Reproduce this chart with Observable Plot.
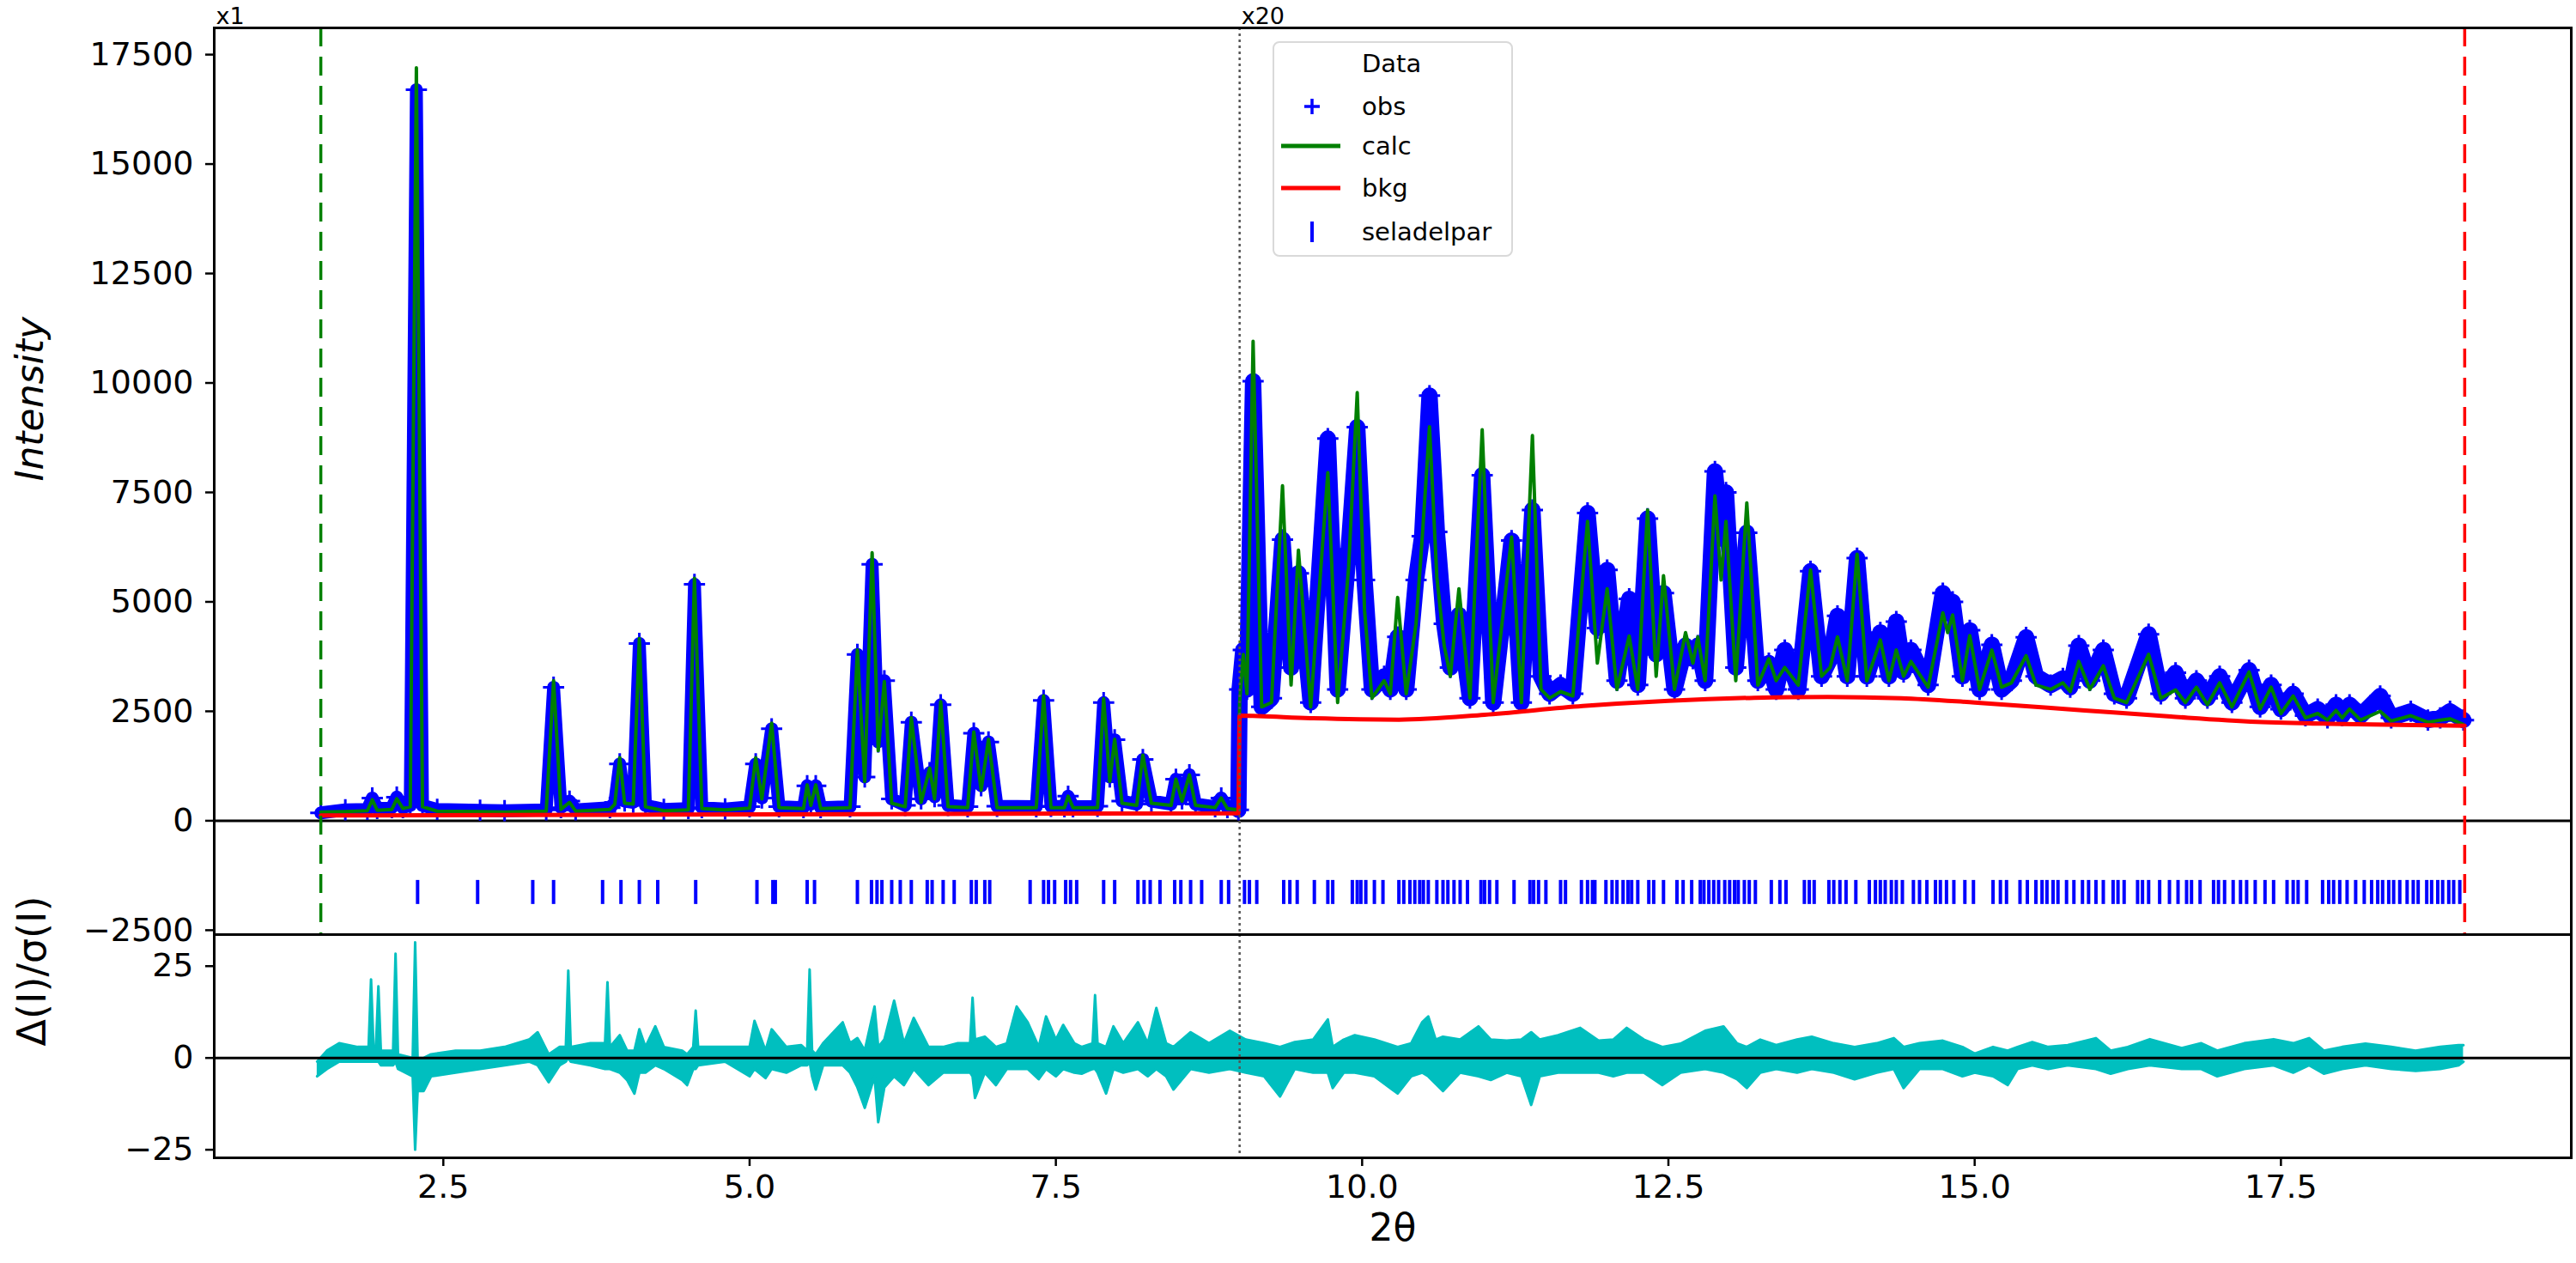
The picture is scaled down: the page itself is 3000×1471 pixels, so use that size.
<!DOCTYPE html>
<html>
<head>
<meta charset="utf-8">
<script src="https://cdn.jsdelivr.net/npm/d3@7"></script>
<script src="https://cdn.jsdelivr.net/npm/@observablehq/plot@0.6"></script>
<style>
  body { margin: 0; background: #fff; }
  #wrap { position: relative; width: 3000px; height: 1471px; font-family: "DejaVu Sans", sans-serif; color: #000; }
  #top, #bot { position: absolute; left: 0; }
  #top { top: 0; }
  #bot { top: 1086px; }
  #legend { position: absolute; left: 1482px; top: 48px; width: 276px; height: 247px; border: 2px solid #d9d9d9; border-radius: 8px; background: rgba(255,255,255,0.85); font-size: 29px; }
  #legend .row { position: absolute; left: 0; width: 276px; height: 40px; }
  #legend .lab { position: absolute; left: 102px; top: 0; line-height: 40px; white-space: nowrap; }
  #legend svg { position: absolute; left: 0; top: 0; }
</style>
</head>
<body>
<div id="wrap">
  <div id="top"></div>
  <div id="bot"></div>
  <div id="legend"></div>
</div>
<script>
// ---------- data ----------
// profile vertices (2θ), calculated and observed intensity as displayed (x20 above 9°)
const profX = [
  1.50,1.70,1.88,1.92,1.96,2.08,2.12,2.17,2.23,2.28,2.33,2.45,2.80,3.00,3.34,3.40,3.46,3.53,3.58,3.86,
  3.90,3.94,3.98,4.05,4.10,4.15,4.30,4.50,4.55,4.61,4.80,5.00,5.05,5.10,5.18,5.24,5.44,5.47,5.50,5.54,
  5.58,5.82,5.88,5.94,6.00,6.05,6.10,6.16,6.27,6.32,6.40,6.47,6.51,6.56,6.62,6.78,6.83,6.89,6.95,7.02,
  7.34,7.40,7.46,7.57,7.60,7.64,7.84,7.89,7.94,7.98,8.04,8.16,8.21,8.28,8.44,8.48,8.53,8.59,8.64,8.80,
  8.85,8.90,8.99,
  9.00,9.03,9.06,9.11,9.18,9.26,9.35,9.42,9.48,9.58,9.72,9.80,9.89,9.96,10.02,10.08,10.18,10.23,10.29,10.36,
  10.44,10.49,10.55,10.61,10.67,10.72,10.79,10.88,10.98,11.07,11.22,11.30,11.39,11.46,11.53,11.62,11.72,11.84,11.92,12.00,
  12.08,12.18,12.25,12.33,12.40,12.46,12.55,12.64,12.70,12.74,12.80,12.88,12.93,12.97,13.05,13.14,13.23,13.32,13.38,13.45,
  13.56,13.66,13.75,13.82,13.88,13.96,14.04,14.12,14.23,14.30,14.36,14.42,14.48,14.62,14.74,14.78,14.82,14.90,14.96,15.04,
  15.14,15.22,15.30,15.42,15.50,15.62,15.72,15.78,15.85,15.94,16.05,16.14,16.24,16.42,16.52,16.64,16.72,16.81,16.90,17.00,
  17.10,17.24,17.33,17.42,17.50,17.60,17.70,17.80,17.88,17.95,18.00,18.06,18.15,18.31,18.40,18.56,18.70,18.80,18.88,18.99
];
const calcY = [
  200,210,230,480,240,260,500,280,320,17200,320,220,210,200,220,3200,260,420,220,260,
  380,1440,400,380,4160,320,230,250,5540,280,250,290,1440,500,2230,300,280,820,350,820,
  280,300,3900,900,6120,1600,3180,400,320,2350,420,1200,500,2720,320,300,2030,700,1860,300,
  300,2850,300,300,560,300,300,2790,900,1860,400,350,1500,400,350,950,450,1050,350,300,
  520,280,250,
  2700,3800,2900,10950,2600,2700,7650,3100,6180,2600,7950,2700,5800,9780,4800,2800,3200,2900,5100,2900,
  4500,6440,9000,5560,4000,3300,5300,2800,8930,2700,6480,2700,8800,3000,2800,2950,2850,6840,3600,5300,
  3000,4220,3000,7100,3300,5600,3000,4300,3600,4200,3200,7420,5500,6840,3200,7260,3100,3700,3200,3500,
  3100,5730,3300,3500,4200,3200,6090,3200,4130,3200,3900,3300,3640,3050,4750,4300,4700,3200,4230,3000,
  3900,3050,3150,3770,3100,3000,3150,2950,3640,3000,3540,2800,2700,3800,2800,2990,2700,3050,2650,3150,
  2600,3400,2550,3050,2450,2850,2350,2450,2300,2520,2350,2550,2300,2500,2280,2400,2250,2300,2330,2200
];
const obsY = [
  180,250,260,520,280,300,540,300,350,16700,350,260,240,230,250,3050,300,450,250,300,
  420,1300,450,420,4050,350,260,280,5400,300,270,320,1300,520,2100,320,300,800,380,800,
  300,320,3800,1000,5860,1800,3200,500,350,2250,500,1100,550,2650,350,320,2000,800,1800,330,
  320,2750,330,320,560,320,330,2700,1000,1850,450,380,1400,450,380,950,500,1050,380,320,
  520,300,250,
  3000,3900,3000,10040,2600,2800,6420,3500,5650,2700,8730,3000,6200,8990,5500,3000,3300,3000,4200,3000,
  5500,6500,9710,6600,4500,3500,4700,2800,7890,2700,6400,2700,7100,3300,2900,3100,2900,7030,4400,5730,
  3200,5070,3100,6900,3800,5200,3000,4000,3700,4000,3200,7980,6500,7500,3500,6580,3200,3600,3000,3900,
  3000,5700,3300,3700,4680,3300,6000,3300,4300,3300,4550,3400,3900,3100,5200,4800,5000,3300,4350,3000,
  4020,3000,3200,4190,3300,3100,3250,3050,4000,3200,3900,2900,2800,4260,2900,3380,2800,3200,2800,3300,
  2700,3440,2600,3100,2550,2900,2400,2550,2350,2650,2400,2650,2400,2850,2350,2500,2300,2350,2500,2300
];
// background curve
const bkgX = [1.5, 3.0, 5.0, 7.0, 8.99, 9.0, 9.6, 10.3, 11.0, 11.8, 12.5, 13.2, 13.8, 14.4, 15.0, 15.9, 16.6, 17.3, 18.0, 19.0];
const bkgY = [120, 130, 145, 160, 170, 2400, 2340, 2310, 2420, 2620, 2740, 2810, 2830, 2800, 2700, 2520, 2380, 2260, 2210, 2170];
// reflection positions (seladelpar)
const reflX = [
  2.29,2.78,3.23,3.40,3.80,3.95,4.10,4.25,4.56,5.06,5.19,5.21,5.47,5.53,5.88,5.995,6.04,6.08,6.16,6.23,
  6.32,6.45,6.49,6.58,6.67,6.81,6.85,6.92,6.96,7.29,7.40,7.44,7.49,7.58,7.62,7.67,7.89,7.98,8.17,8.22,
  8.27,8.35,8.47,8.52,8.60,8.69,8.85,8.91,9.04,9.08,9.14,9.36,9.41,9.47,9.61,9.72,9.76,9.92,9.96,9.99,
  10.03,10.10,10.17,10.30,10.34,10.39,10.43,10.47,10.50,10.54,10.61,10.66,10.70,10.75,10.80,10.86,10.97,11.00,11.04,11.10,
  11.24,11.37,11.40,11.44,11.50,11.62,11.66,11.79,11.84,11.88,11.90,11.99,12.04,12.08,12.13,12.17,12.20,12.25,12.34,12.38,
  12.46,12.57,12.62,12.69,12.76,12.79,12.83,12.87,12.91,12.96,13.00,13.04,13.07,13.12,13.16,13.21,13.34,13.41,13.46,13.61,
  13.65,13.69,13.81,13.85,13.90,13.95,14.03,14.14,14.19,14.23,14.27,14.32,14.36,14.41,14.50,14.55,14.61,14.68,14.72,14.77,
  14.83,14.92,14.99,15.15,15.21,15.26,15.37,15.43,15.50,15.55,15.59,15.64,15.68,15.75,15.81,15.88,15.93,15.99,16.05,16.13,
  16.17,16.22,16.33,16.37,16.42,16.51,16.59,16.66,16.73,16.77,16.84,16.95,16.99,17.04,17.11,17.17,17.22,17.29,17.37,17.44,
  17.55,17.60,17.64,17.71,17.84,17.89,17.93,17.98,18.04,18.11,18.18,18.24,18.29,18.33,18.38,18.42,18.47,18.53,18.58,18.62,
  18.69,18.73,18.78,18.82,18.87,18.91,18.96
];
// difference curve Δ(I)/σ(I): upper and lower edge of the noisy trace
const resX = [
  1.47,1.55,1.65,1.80,1.89,1.91,1.93,1.95,1.97,1.99,2.09,2.11,2.13,2.25,2.27,2.29,2.34,2.40,2.60,2.80,
  3.00,3.20,3.27,3.36,3.45,3.50,3.52,3.54,3.70,3.82,3.84,3.86,3.94,4.00,4.06,4.10,4.15,4.23,4.30,4.45,
  4.49,4.54,4.56,4.58,4.80,5.00,5.04,5.13,5.18,5.30,5.42,5.47,5.49,5.51,5.54,5.60,5.76,5.82,5.88,5.94,
  6.02,6.05,6.10,6.18,6.26,6.34,6.46,6.58,6.70,6.80,6.82,6.84,6.92,7.01,7.10,7.18,7.27,7.36,7.42,7.50,
  7.56,7.65,7.71,7.80,7.82,7.84,7.91,7.97,8.05,8.17,8.25,8.32,8.40,8.46,8.60,8.75,8.92,9.05,9.20,9.33,
  9.45,9.60,9.72,9.76,9.85,9.94,10.10,10.29,10.40,10.49,10.54,10.60,10.66,10.80,10.95,11.05,11.18,11.30,11.38,11.45,
  11.60,11.78,11.93,12.05,12.16,12.30,12.45,12.60,12.80,12.95,13.06,13.14,13.25,13.38,13.55,13.67,13.85,14.02,14.20,14.34,
  14.42,14.55,14.74,14.90,15.00,15.15,15.27,15.35,15.47,15.60,15.76,15.99,16.11,16.25,16.43,16.69,16.85,16.98,17.20,17.44,
  17.60,17.73,17.85,18.00,18.19,18.40,18.60,18.80,18.95,18.99
];
const resHi = [
  -1,2,4,3,3,21.4,3,3,19.5,2,2,28.4,1,0,31.5,0,0,1,2,2,
  3,5,7,1,3,3,23.8,3,4,4,20.6,3,6.2,2,2,7.8,3,8.6,3,2,
  1,3,12.9,3,3,3,10.1,2,7.8,3,3.5,2,24.1,2,1,4,9.7,4,5.4,2,
  14,3,5,15.6,4,10.9,3,3,4,4,16.4,5,5.8,3,4,14,9.7,3,11.3,5,
  9,4,3,4,17.1,4,3,8.6,4,9.7,4,13.6,4,3,7,4,7.4,5,4,3,
  4.3,5,10.5,3,5,6.2,5,3,4,9.7,11.3,5,5.8,5,8.6,5,4.7,5,7,5,
  6.2,8.2,4.7,5,8.2,5,3,3.9,7.4,8.6,4,3,5,3.5,5,5.8,4,3,4,5.4,
  3,4,4.7,3,1.2,3,2,3,4.3,3,3.5,5.4,2,3,5.1,2.7,4,2,4,5.1,
  4,5.4,2,3,3.9,3,2,3,3.5,3.5
];
const resLo = [
  -5,-3,-1,-1,-1,-1,-1,-1,-1,-2,-2,-1,-3,-5,-25,-9,-9,-5,-4,-3,
  -2,-1,-2,-6.6,-2,-1,0,-1,-2,-3,-3,-3,-4,-6,-9.7,-4,-4,-2,-3,-6,
  -7.4,-3,-3,-2,-1,-5,-3,-5.5,-3,-4,-2,-2,-1,-5,-8.6,-2,-2,-4,-8,-13.6,
  -5,-17.5,-8,-5,-7.4,-3,-7.4,-4,-4,-4,-5,-10.9,-4,-7.4,-3,-3,-3,-5.8,-3,-5,
  -3,-4,-4.3,-3,-3,-4,-9.7,-3,-4,-3,-5,-3,-5,-8.6,-3,-4,-3,-4,-5,-10.5,
  -3,-4,-4,-8.2,-4,-4,-5,-9.7,-5,-4,-5,-7,-9,-4,-5,-6,-4,-5,-12.8,-5,
  -4,-4,-4,-5,-4,-4,-7.4,-4,-3,-4,-5.8,-8.2,-4,-3,-4,-3,-4,-5.8,-4,-3,
  -8.2,-3,-3,-5,-4,-5,-7.4,-3,-2,-3,-2,-3,-4.3,-3,-2,-3,-3,-5,-3,-2,
  -4,-2,-4.3,-3,-2,-3,-3.5,-3,-2,-1
];
// fit limits, scale-change position and their labels
const limits = [1.5, 19.0];
const scaleStarts = [0.63, 9.0];
const scaleLabels = ["x1", "x20"];
// axis ticks
const xTicks = [2.5, 5.0, 7.5, 10.0, 12.5, 15.0, 17.5];
const yTicks = [-2500, 0, 2500, 5000, 7500, 10000, 12500, 15000, 17500];
const resTicks = [-25, 0, 25];

// ---------- tables ----------
const profile = profX.map((x, i) => ({x, calc: calcY[i], obs: obsY[i]}));
const bkg = bkgX.map((x, i) => ({x, y: bkgY[i]}));
const res = resX.map((x, i) => ({x, hi: resHi[i], lo: resLo[i]}));
const scaleText = scaleLabels.map((t, i) => ({t, x: scaleStarts[i]}));

const X_DOMAIN = [0.63, 19.87];
const BLUE = "#0000ff", GREEN = "#008000", RED = "#ff0000", CYAN = "#00bfbf";
const baseStyle = {fontFamily: "DejaVu Sans, sans-serif", fontSize: "38px", color: "#000", background: "transparent", overflow: "visible"};

const topPlot = Plot.plot({
  width: 3000, height: 1088,
  marginTop: 32, marginBottom: 0, marginLeft: 249, marginRight: 6,
  style: baseStyle,
  x: {domain: X_DOMAIN, axis: null},
  y: {domain: [-2600, 18110]},
  marks: [
    Plot.ruleY([0], {stroke: "#000", strokeWidth: 3}),
    Plot.line(profile.filter(d => d.x < 9), {x: "x", y: "obs", stroke: BLUE, strokeWidth: 15}),
    Plot.line(profile.filter(d => d.x >= 8.99), {x: "x", y: "obs", stroke: BLUE, strokeWidth: 19}),
    Plot.dot(profile, {x: "x", y: "obs", symbol: "plus", r: 8, stroke: BLUE, strokeWidth: 3}),
    Plot.line(profile, {x: "x", y: "calc", stroke: GREEN, strokeWidth: 4}),
    Plot.line(bkg, {x: "x", y: "y", stroke: RED, strokeWidth: 5, curve: "monotone-x"}),
    Plot.ruleX(reflX, {y1: -1911, y2: -1362, stroke: BLUE, strokeWidth: 4}),
    Plot.ruleX([limits[0]], {stroke: GREEN, strokeWidth: 3.5, strokeDasharray: "22,12"}),
    Plot.ruleX([limits[1]], {stroke: RED, strokeWidth: 3.5, strokeDasharray: "22,12"}),
    Plot.ruleX([scaleStarts[1]], {stroke: "#555", strokeWidth: 2.5, strokeDasharray: "3,4"}),
    Plot.axisY({ticks: yTicks, tickFormat: d3.format("d"), tickSize: 10, tickPadding: 14, strokeWidth: 2.5, label: null}),
    Plot.frame({stroke: "#000", strokeWidth: 3}),
    Plot.text(["Intensity"], {frameAnchor: "left", dx: -214, rotate: -90, fontSize: 44, fontStyle: "italic"}),
    Plot.text(scaleText, {x: "x", text: "t", frameAnchor: "top", textAnchor: "start", lineAnchor: "bottom", dx: 2, dy: -5, fontSize: 27})
  ]
});

const botPlot = Plot.plot({
  width: 3000, height: 385,
  marginTop: 2, marginBottom: 123, marginLeft: 249, marginRight: 6,
  style: baseStyle,
  x: {domain: X_DOMAIN},
  y: {domain: [-27.2, 33.6]},
  marks: [
    Plot.areaY(res, {x: "x", y1: "lo", y2: "hi", fill: CYAN}),
    Plot.line(res, {x: "x", y: "hi", stroke: CYAN, strokeWidth: 3}),
    Plot.line(res, {x: "x", y: "lo", stroke: CYAN, strokeWidth: 3}),
    Plot.ruleY([0], {stroke: "#000", strokeWidth: 3}),
    Plot.ruleX([scaleStarts[1]], {stroke: "#555", strokeWidth: 2.5, strokeDasharray: "3,4"}),
    Plot.axisY({ticks: resTicks, tickFormat: d3.format("d"), tickSize: 10, tickPadding: 14, strokeWidth: 2.5, label: null}),
    Plot.axisX({ticks: xTicks, tickFormat: d3.format(".1f"), tickSize: 10, tickPadding: 10, strokeWidth: 2.5, label: null}),
    Plot.frame({stroke: "#000", strokeWidth: 3}),
    Plot.text(["Δ(I)/σ(I)"], {frameAnchor: "left", dx: -211, rotate: -90, fontSize: 46}),
    Plot.text(["2θ"], {frameAnchor: "bottom", dy: 96, fontSize: 44})
  ]
});

document.getElementById("top").appendChild(topPlot);
document.getElementById("bot").appendChild(botPlot);

// ---------- legend ----------
const legendItems = [
  {label: "Data", kind: "none"},
  {label: "obs", kind: "plus", color: BLUE},
  {label: "calc", kind: "line", color: GREEN},
  {label: "bkg", kind: "line", color: RED},
  {label: "seladelpar", kind: "tick", color: BLUE}
];
const legendRowCenters = [24, 74, 120, 169, 220];
const leg = document.getElementById("legend");
legendItems.forEach((it, i) => {
  const row = document.createElement("div");
  row.className = "row";
  row.style.top = (legendRowCenters[i] - 20) + "px";
  let sym = "";
  if (it.kind === "plus") sym = `<svg width="90" height="40"><path d="M44,11V29M35,20H53" stroke="${it.color}" stroke-width="3.5"/></svg>`;
  if (it.kind === "line") sym = `<svg width="90" height="40"><path d="M8,20H77" stroke="${it.color}" stroke-width="5"/></svg>`;
  if (it.kind === "tick") sym = `<svg width="90" height="40"><path d="M44,8V32" stroke="${it.color}" stroke-width="4"/></svg>`;
  row.innerHTML = sym + `<span class="lab">${it.label}</span>`;
  leg.appendChild(row);
});
</script>
</body>
</html>
